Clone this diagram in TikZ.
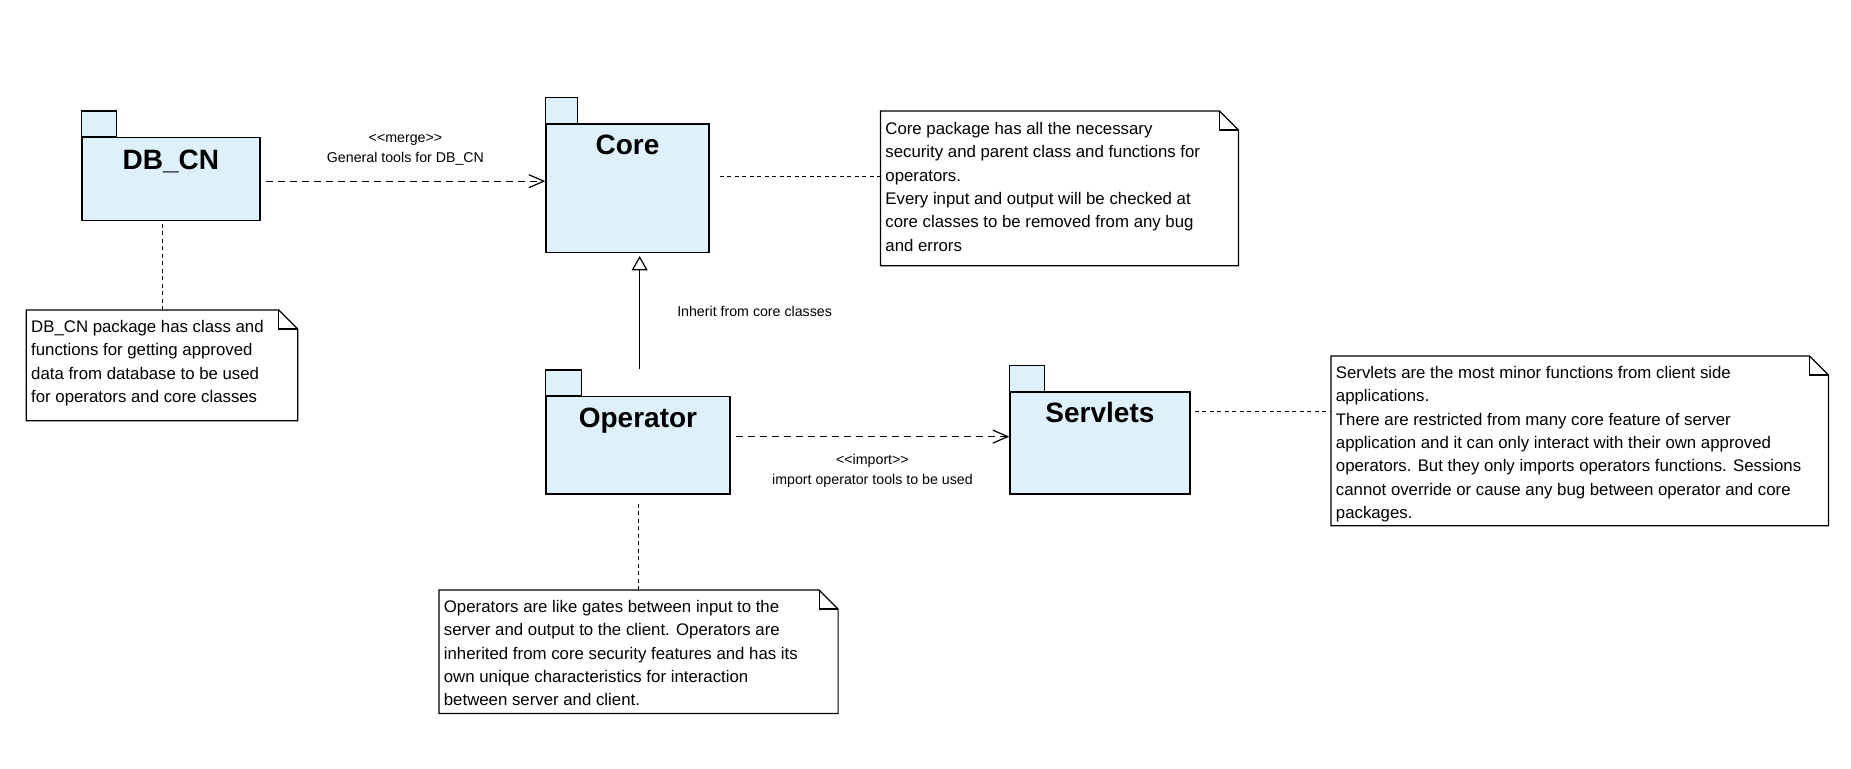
\documentclass[tikz,border=0pt]{standalone}
\usepackage{fontspec}
\setmainfont{Liberation Sans}[Ligatures=TeXOff]
\usepackage{tikz}
\usetikzlibrary{arrows.meta,calc}
\pgfdeclarelayer{edgelayer}
\pgfdeclarelayer{nodelayer}
\pgfsetlayers{edgelayer,nodelayer,main}
\definecolor{hexcolor0xdef1fb}{rgb}{0.871,0.945,0.984}
\definecolor{myblack}{rgb}{0.000,0.000,0.000}
\definecolor{mywhite}{rgb}{1.000,1.000,1.000}
\tikzstyle{none}=[inner sep=0pt]
\tikzstyle{package}=[rectangle,anchor=north west,fill=hexcolor0xdef1fb,draw=myblack,line width=0.65pt,inner sep=0pt,font=\bfseries\fontsize{14}{16}\selectfont]
\tikzstyle{pkgtab}=[fill=hexcolor0xdef1fb,draw=myblack,line width=0.65pt]
\tikzstyle{notebox}=[rectangle,anchor=north west,inner sep=0pt]
\tikzstyle{notetext}=[anchor=north west,align=left,inner sep=0pt,font=\fontsize{8.4}{11.65}\selectfont]
\tikzstyle{edgetext}=[inner sep=0pt,align=center,font=\fontsize{7.1}{10}\selectfont]
\tikzstyle{noteline}=[draw=myblack,line width=0.55pt,dash pattern=on 2pt off 1.75pt]
\tikzstyle{dependency}=[draw=myblack,line width=0.6pt,dash pattern=on 3.5pt off 2.5pt,-{Straight Barb[length=7.5pt,width=6.5pt]}]
\tikzstyle{generalization}=[draw=myblack,line width=0.6pt,-{Triangle[open,length=7.2pt,width=8pt]}]

\begin{document}
\begin{tikzpicture}[x=0.5pt,y=-0.5pt]
\useasboundingbox (0,0) rectangle (1851,768);
	\begin{pgfonlayer}{nodelayer}
		% packages
		\node [style=package,minimum width=89pt,text height=16pt,text depth=25.5pt] (0) at (81.3,137) {DB\_CN};
		\node [style=package,minimum width=81.5pt,text height=15.35pt,text depth=48.85pt] (1) at (545.3,123.3) {Core};
		\node [style=package,minimum width=92pt,text height=15.35pt,text depth=33.3pt] (2) at (545.3,396) {Operator};
		\node [style=package,minimum width=90pt,text height=15.2pt,text depth=35.8pt] (3) at (1009.3,391.3) {Servlets};
		\draw [style=pkgtab] (0.north west) rectangle ++(35,-26);
		\draw [style=pkgtab] (1.north west) rectangle ++(32,-26);
		\draw [style=pkgtab] (2.north west) rectangle ++(36,-26);
		\draw [style=pkgtab] (3.north west) rectangle ++(35,-26);
		% notes
		\node [style=notebox,minimum width=135.35pt,minimum height=55pt] (4) at (26.3,310) {};
		\node [style=notebox,minimum width=178.6pt,minimum height=77pt] (5) at (880.5,111) {};
		\node [style=notebox,minimum width=199.15pt,minimum height=61.35pt] (6) at (439,590) {};
		\node [style=notebox,minimum width=248.35pt,minimum height=84.5pt] (7) at (1331,356) {};
		\foreach \n in {4,5,6,7}{
			\draw [fill=mywhite,draw=myblack,line width=0.6pt] (\n.north west) -- ([xshift=-9.5pt]\n.north east) -- ([yshift=-9.5pt]\n.north east) -- (\n.south east) -- (\n.south west) -- cycle;
			\draw [draw=myblack,line width=0.6pt] ([xshift=-9.5pt]\n.north east) |- ([yshift=-9.5pt]\n.north east);
		}
		\node [style=notetext] (8) at ([shift={(4.5,10)}]4.north west) {DB\_CN package has class and\\functions for getting approved\\data from database to be used\\for operators and core classes};
		\node [style=notetext] (9) at ([shift={(4.5,11)}]5.north west) {Core package has all the necessary\\security and parent class and functions for\\operators.\\Every input and output will be checked at\\core classes to be removed from any bug\\and errors};
		\node [style=notetext] (10) at ([shift={(4.5,10)}]6.north west) {Operators are like gates between input to the\\server and output to the client. Operators are\\inherited from core security features and has its\\own unique characteristics for interaction\\between server and client.};
		\node [style=notetext] (11) at ([shift={(4.5,10)}]7.north west) {Servlets are the most minor functions from client side\\applications.\\There are restricted from many core feature of server\\application and it can only interact with their own approved\\operators. But they only imports operators functions. Sessions\\cannot override or cause any bug between operator and core\\packages.};
	\end{pgfonlayer}
	\begin{pgfonlayer}{edgelayer}
		\coordinate (v1) at ($(0.east)+(5,2)$);
		\coordinate (v2) at ($(2.east)+(5,-8.7)$);
		\coordinate (v3) at ($(2.north)+(1.7,-26.7)$);
		\coordinate (v4) at ($(1.north east)+(10,53)$);
		\coordinate (v5) at ($(3.north east)+(4,20.4)$);
		\draw [style=dependency] (v1) -- (v1 -| 1.west) node [style=edgetext,midway,above=7.5pt] {<<merge>>\\General tools for DB\_CN};
		\draw [style=dependency] (v2) -- (v2 -| 3.west) node [style=edgetext,midway,below=8.5pt] {<<import>>\\import operator tools to be used};
		\draw [style=generalization,shorten >=1.5pt] (v3) -- (v3 |- 1.south) node [style=edgetext,midway,right=18.5pt] {Inherit from core classes};
		\draw [style=noteline,shorten >=1.5pt] (4.north) -- (4.north |- 0.south);
		\draw [style=noteline] (v4) -- (v4 -| 5.west);
		\draw [style=noteline,shorten >=3.5pt] (6.north) -- (6.north |- 2.south);
		\draw [style=noteline] (v5) -- (v5 -| 7.west);
	\end{pgfonlayer}
\end{tikzpicture}
\end{document}
